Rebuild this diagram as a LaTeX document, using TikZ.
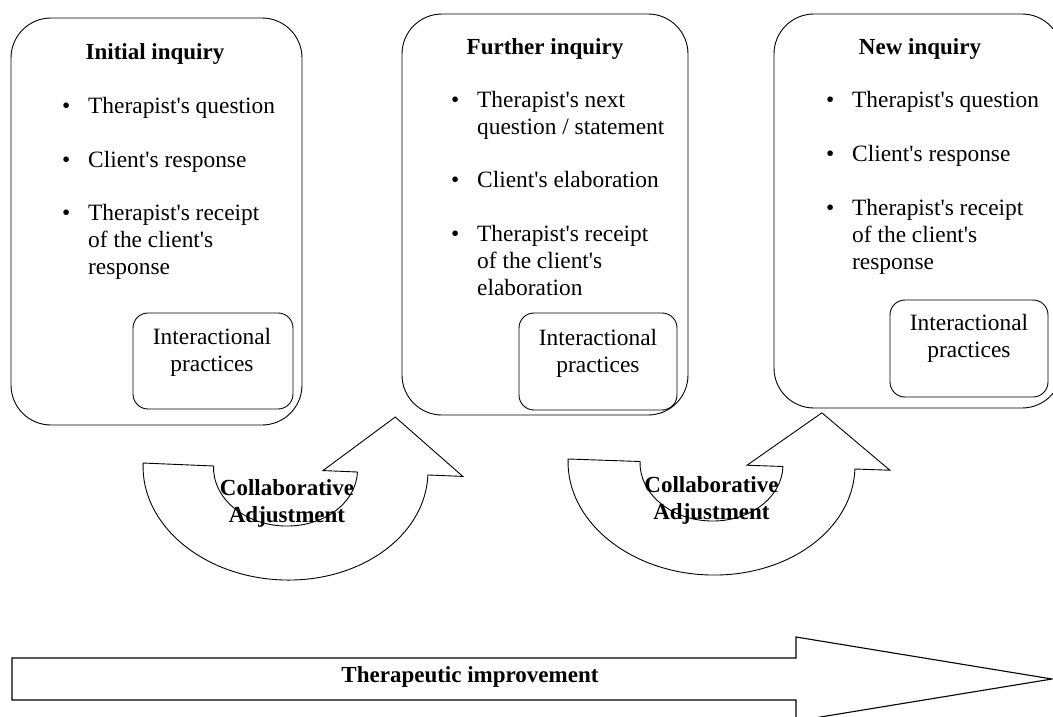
\documentclass[tikz,border=0pt]{standalone}
\usepackage{fontspec}
\setmainfont{Liberation Serif}[Ligatures=TeXOff]
\newcommand{\itembul}{\llap{\textbullet\hspace{18pt}}\strut}
\begin{document}
\begin{tikzpicture}[x=1pt,y=-1pt,
  box/.style={draw, line width=0.9pt, rounded corners=40pt, inner sep=0pt},
  ibox/.style={draw, line width=0.9pt, rounded corners=15pt, inner sep=0pt},
  ttl/.style={anchor=base, font=\fontsize{23}{27}\selectfont\bfseries, inner sep=0pt},
  itm/.style={anchor=north west, align=left, font=\fontsize{23.4}{27}\selectfont, inner sep=0pt},
  ctr/.style={anchor=north, align=center, font=\fontsize{23.4}{27}\selectfont, inner sep=0pt},
  lbl/.style={anchor=north, align=center, font=\fontsize{23}{27}\selectfont\bfseries, inner sep=0pt},
  outl/.style={draw, line width=0.9pt, line join=miter}
]
\useasboundingbox (0,0) rectangle (1053,717);
\clip (0,0) rectangle (1053,717);

% ---- box 1
\node[box, minimum width=291pt, minimum height=407pt] (b1) at (156.5,221.5) {};
\node[ttl] (t1) at (155,60) {Initial inquiry};
\node[itm] (b1i1) at (88,94.1) {\itembul Therapist's question};
\node[itm] (b1i2) at (88,148.1) {\itembul Client's response};
\node[itm] (b1i3) at (88,201.1) {\itembul Therapist's receipt\\of the client's\\response};
\node[ibox, minimum width=160pt, minimum height=96pt] (in1) at (213,361) {};
\node[ctr] (p1) at (212,325.1) {\strut Interactional\\practices};

% ---- box 2
\node[box, minimum width=286pt, minimum height=401pt] (b2) at (545,214.5) {};
\node[ttl] (t2) at (545,54.5) {Further inquiry};
\node[itm] (b2i1) at (477,88.3) {\itembul Therapist's next\\question / statement};
\node[itm] (b2i2) at (477,168.6) {\itembul Client's elaboration};
\node[itm] (b2i3) at (477,222.1) {\itembul Therapist's receipt\\of the client's\\elaboration};
\node[ibox, minimum width=158pt, minimum height=97pt] (in2) at (598,361.5) {};
\node[ctr] (p2) at (598,326.1) {\strut Interactional\\practices};

% ---- box 3
\node[box, minimum width=288pt, minimum height=394pt] (b3) at (918,211) {};
\node[ttl] (t3) at (920,55) {New inquiry};
\node[itm] (b3i1) at (852,88.1) {\itembul Therapist's question};
\node[itm] (b3i2) at (852,142.6) {\itembul Client's response};
\node[itm] (b3i3) at (852,196.1) {\itembul Therapist's receipt\\of the client's\\response};
\node[ibox, minimum width=158pt, minimum height=97pt] (in3) at (969,348.5) {};
\node[ctr] (p3) at (969,311.1) {\strut Interactional\\practices};

% ---- curved arrow 1
\begin{scope}[shift={(285.5,469)}, rotate=-2.4]
  \draw[outl] (-142.5,0) -- (-72,0)
    arc[start angle=180, end angle=360, x radius=72pt, y radius=57pt]
    -- (37.5,0) -- (107.5,-56.5) -- (177.5,0) -- (142.5,0)
    arc[start angle=0, end angle=-180, x radius=142.5pt, y radius=111pt]
    -- cycle;
\end{scope}
\node[lbl] (ca1) at (287,476) {\strut Collaborative\\Adjustment};

% ---- curved arrow 2
\begin{scope}[shift={(711.5,464)}, rotate=-2.0]
  \draw[outl] (-143.5,0) -- (-71.5,0)
    arc[start angle=180, end angle=360, x radius=71.5pt, y radius=57pt]
    -- (35.5,0) -- (108.5,-55) -- (178.5,0) -- (143.5,0)
    arc[start angle=0, end angle=-180, x radius=143.5pt, y radius=111pt]
    -- cycle;
\end{scope}
\node[lbl] (ca2) at (711.5,473) {\strut Collaborative\\Adjustment};

% ---- therapeutic improvement arrow
\draw[line width=1.1pt, line join=miter]
  (12,658) -- (796,658) -- (796,637) -- (1052,679) -- (796,721) -- (796,700) -- (12,700) -- cycle;
\node[ttl] (ti) at (470,682) {Therapeutic improvement};
\end{tikzpicture}
\end{document}
